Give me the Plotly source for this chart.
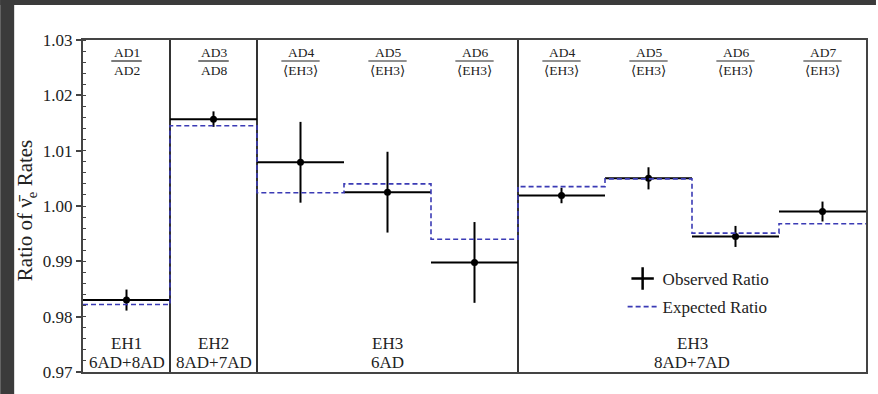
import numpy as np
import plotly.graph_objects as go

# ---------------- data ----------------
num_labels = ["AD1", "AD3", "AD4", "AD5", "AD6", "AD4", "AD5", "AD6", "AD7"]
den_labels = ["AD2", "AD8", "⟨EH3⟩", "⟨EH3⟩", "⟨EH3⟩", "⟨EH3⟩", "⟨EH3⟩", "⟨EH3⟩", "⟨EH3⟩"]
observed = [0.9830, 1.0157, 1.0079, 1.0025, 0.9898, 1.0019, 1.0050, 0.9945, 0.9990]
observed_err = [0.0019, 0.0014, 0.0073, 0.0073, 0.0073, 0.0014, 0.0020, 0.0019, 0.0018]
expected = [0.9822, 1.0145, 1.0024, 1.0040, 0.9940, 1.0035, 1.0049, 0.9951, 0.9968]
region_line1 = ["EH1", "EH2", "EH3", "EH3"]
region_line2 = ["6AD+8AD", "8AD+7AD", "6AD", "8AD+7AD"]
region_bins = [1, 1, 3, 4]
y_ticks = [0.97, 0.98, 0.99, 1.00, 1.01, 1.02, 1.03]

# ---------------- geometry ----------------
W, H = 878, 394
L, R, T, B = 83, 10, 40, 22
PW, PH = W - L - R, H - T - B

def px_x(p):
    return (p - L) / PW

def px_y(p):
    return (H - B - p) / PH

FONT = "Liberation Serif, Times New Roman, DejaVu Serif, serif"
TXT = "#222222"
BLUE = "#3b3bb5"

n = len(observed)
centers = np.arange(n) + 0.5

fig = go.Figure()

# observed ratio: points with bin-wide horizontal bars and vertical error bars
fig.add_trace(go.Scatter(
    x=centers, y=observed, mode="markers", showlegend=False,
    marker=dict(color="black", size=7, symbol="circle"),
    error_x=dict(type="constant", value=0.5, width=0, thickness=2, color="black"),
    error_y=dict(type="data", array=observed_err, width=0, thickness=2, color="black"),
    cliponaxis=False,
))

# expected ratio: step line
step_x = np.arange(n + 1)
step_y = list(expected) + [expected[-1]]
fig.add_trace(go.Scatter(
    x=step_x, y=step_y, mode="lines", line_shape="hv",
    line=dict(color=BLUE, width=1.6, dash="5px,3px"),
    name="Expected Ratio", legendrank=2, legendgroup="exp",
))

# legend-only observed marker
fig.add_trace(go.Scatter(
    x=[None], y=[None], mode="markers", name="Observed Ratio", legendrank=1,
    legendgroup="obs",
    marker=dict(symbol="cross-thin", size=16, color="black",
                line=dict(width=2.5, color="black")),
))

shapes = []
annotations = []

# region dividers
edges = np.cumsum(region_bins)
starts = np.concatenate([[0], edges[:-1]])
for e in edges[:-1]:
    shapes.append(dict(type="line", xref="x", yref="paper", x0=e, x1=e, y0=0, y1=1,
                       line=dict(color="black", width=1.6), layer="below"))

# region labels at bottom
for s, e, l1, l2 in zip(starts, edges, region_line1, region_line2):
    cx = (s + e) / 2
    annotations.append(dict(x=cx, y=px_y(343), xref="x", yref="paper", text=l1,
                            showarrow=False, font=dict(size=17, color=TXT, family=FONT),
                            xanchor="center", yanchor="middle"))
    annotations.append(dict(x=cx, y=px_y(362), xref="x", yref="paper", text=l2,
                            showarrow=False, font=dict(size=17, color=TXT, family=FONT),
                            xanchor="center", yanchor="middle"))

# fraction labels at top
for i, (nm, dn) in enumerate(zip(num_labels, den_labels)):
    cx = i + 0.5
    annotations.append(dict(x=cx, y=px_y(52), xref="x", yref="paper", text=nm,
                            showarrow=False, font=dict(size=13.5, color=TXT, family=FONT),
                            xanchor="center", yanchor="middle"))
    annotations.append(dict(x=cx, y=px_y(70), xref="x", yref="paper", text=dn,
                            showarrow=False, font=dict(size=13.5, color=TXT, family=FONT),
                            xanchor="center", yanchor="middle"))
    hw = 0.22 if "EH" in dn else 0.175
    shapes.append(dict(type="line", xref="x", yref="paper", x0=cx - hw, x1=cx + hw,
                       y0=px_y(61), y1=px_y(61), line=dict(color=TXT, width=1.2)))

# y axis title
annotations.append(dict(x=px_x(26), y=px_y(211), xref="paper", yref="paper",
                        text="Ratio of ν̄<sub>e</sub> Rates", textangle=-90, showarrow=False,
                        font=dict(size=21, color=TXT, family=FONT),
                        xanchor="center", yanchor="middle"))

# dark frame bands of the screenshot
BAND = "#3b3b3b"
shapes.append(dict(type="rect", xref="paper", yref="paper", x0=px_x(0), x1=px_x(W),
                   y0=px_y(5), y1=px_y(0), fillcolor=BAND, line=dict(width=0), layer="above"))
shapes.append(dict(type="rect", xref="paper", yref="paper", x0=px_x(0), x1=px_x(14),
                   y0=px_y(H), y1=px_y(0), fillcolor=BAND, line=dict(width=0), layer="above"))

fig.update_layout(
    width=W, height=H,
    margin=dict(l=L, r=R, t=T, b=B, pad=0),
    paper_bgcolor="white", plot_bgcolor="white",
    font=dict(family=FONT, color=TXT),
    shapes=shapes, annotations=annotations,
    legend=dict(x=px_x(624), y=px_y(261), xanchor="left", yanchor="top",
                bgcolor="rgba(0,0,0,0)", borderwidth=0,
                font=dict(size=17, color=TXT, family=FONT), tracegroupgap=3),
    xaxis=dict(range=[0, n], showgrid=False, zeroline=False, showticklabels=False,
               ticks="", showline=True, mirror=True, linecolor="#444", linewidth=2),
    yaxis=dict(range=[y_ticks[0], y_ticks[-1]], tickvals=y_ticks,
               ticktext=[f"{v:.2f}" for v in y_ticks],
               showgrid=False, zeroline=False, showline=True, mirror=True,
               linecolor="#444", linewidth=2, ticks="outside", ticklen=5,
               tickcolor="#444", tickwidth=1.5,
               tickfont=dict(size=17, color=TXT, family=FONT),
               minor=dict(dtick=0.002, ticks="inside", ticklen=3, tickcolor="#444",
                          tickwidth=1.2, showgrid=False)),
)

fig.write_html("out.html")
